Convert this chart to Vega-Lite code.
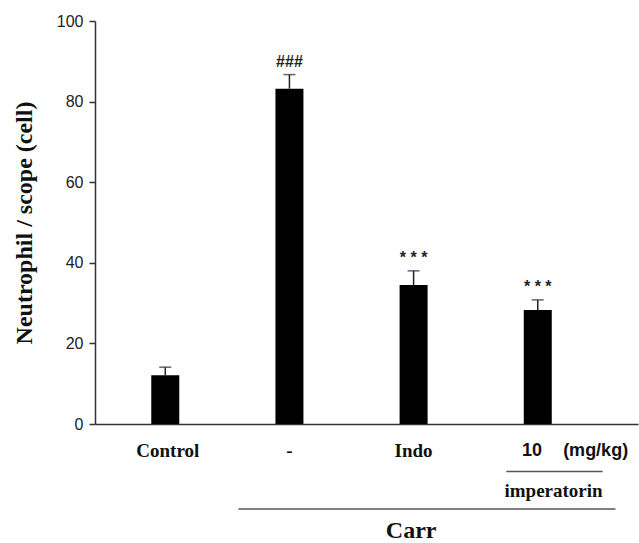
{
  "$schema": "https://vega.github.io/schema/vega-lite/v6.json",
  "autosize": "none",
  "padding": {"left": 95, "top": 21, "right": 1, "bottom": 119},
  "width": 543,
  "height": 403,
  "background": "white",
  "config": {"view": {"stroke": null}},
  "datasets": {
    "bars": [
      {"group": "Control", "pos": 1, "value": 12.1, "err": 14.1, "sig": ""},
      {"group": "-", "pos": 2, "value": 83.2, "err": 86.7, "sig": "###"},
      {"group": "Indo", "pos": 3, "value": 34.5, "err": 38.0, "sig": "* * *"},
      {"group": "10", "pos": 4, "value": 28.3, "err": 30.8, "sig": "* * *"}
    ],
    "serifLabels": [
      {"label": "Control", "pos": 1.02, "lv": -6.8},
      {"label": "-", "pos": 2, "lv": -6.8},
      {"label": "Indo", "pos": 3, "lv": -6.8},
      {"label": "imperatorin", "pos": 4.127, "lv": -16.6}
    ],
    "sansLabels": [
      {"label": "10", "pos": 3.953, "lv": -6.8},
      {"label": "(mg/kg)", "pos": 4.466, "lv": -6.8}
    ],
    "bigLabels": [
      {"label": "Carr", "pos": 2.98, "lv": -26.6}
    ],
    "lines": [
      {"name": "imperatorin", "start": 3.747, "end": 4.522, "lv": -11.8},
      {"name": "Carr", "start": 1.589, "end": 4.625, "lv": -21.1}
    ]
  },
  "layer": [
    {
      "data": {"name": "bars"},
      "mark": {"type": "bar", "color": "black", "width": 28},
      "encoding": {
        "x": {"field": "pos", "type": "quantitative", "scale": {"domain": [0.4743, 4.767], "nice": false, "zero": false},
              "axis": {"title": null, "labels": false, "ticks": false, "grid": false, "domainColor": "#333", "domainWidth": 1.5}},
        "y": {"field": "value", "type": "quantitative", "scale": {"domain": [0, 100], "nice": false},
              "axis": {"values": [0, 20, 40, 60, 80, 100], "grid": false, "tickSize": 6, "tickColor": "#333", "domainColor": "#333", "domainWidth": 1.5, "tickWidth": 1.5,
                       "labelFont": "Liberation Sans", "labelFontSize": 16, "labelColor": "#222", "labelPadding": 6,
                       "title": "Neutrophil / scope (cell)", "titleFont": "Liberation Serif", "titleFontSize": 24, "titleFontWeight": "bold", "titleColor": "#111", "titlePadding": 20}}
      }
    },
    {
      "data": {"name": "bars"},
      "mark": {"type": "rule", "color": "#222", "strokeWidth": 1.5},
      "encoding": {
        "x": {"field": "pos", "type": "quantitative"},
        "y": {"field": "value", "type": "quantitative"},
        "y2": {"field": "err"}
      }
    },
    {
      "data": {"name": "bars"},
      "mark": {"type": "tick", "color": "#222", "orient": "horizontal", "size": 12, "thickness": 1.5},
      "encoding": {
        "x": {"field": "pos", "type": "quantitative"},
        "y": {"field": "err", "type": "quantitative"}
      }
    },
    {
      "data": {"name": "bars"},
      "mark": {"type": "text", "font": "Liberation Sans", "fontSize": 16, "fontWeight": "bold", "color": "#222", "dy": -13, "baseline": "middle"},
      "encoding": {
        "x": {"field": "pos", "type": "quantitative"},
        "y": {"field": "err", "type": "quantitative"},
        "text": {"field": "sig"}
      }
    },
    {
      "data": {"name": "serifLabels"},
      "mark": {"type": "text", "font": "Liberation Serif", "fontSize": 19, "fontWeight": "bold", "color": "#111", "baseline": "middle"},
      "encoding": {
        "x": {"field": "pos", "type": "quantitative"},
        "y": {"field": "lv", "type": "quantitative"},
        "text": {"field": "label"}
      }
    },
    {
      "data": {"name": "sansLabels"},
      "mark": {"type": "text", "font": "Liberation Sans", "fontSize": 18, "fontWeight": "bold", "color": "#111", "baseline": "middle"},
      "encoding": {
        "x": {"field": "pos", "type": "quantitative"},
        "y": {"field": "lv", "type": "quantitative"},
        "text": {"field": "label"}
      }
    },
    {
      "data": {"name": "bigLabels"},
      "mark": {"type": "text", "font": "Liberation Serif", "fontSize": 24, "fontWeight": "bold", "color": "#111", "baseline": "middle"},
      "encoding": {
        "x": {"field": "pos", "type": "quantitative"},
        "y": {"field": "lv", "type": "quantitative"},
        "text": {"field": "label"}
      }
    },
    {
      "data": {"name": "lines"},
      "mark": {"type": "rule", "color": "#555", "strokeWidth": 1.5},
      "encoding": {
        "x": {"field": "start", "type": "quantitative"},
        "x2": {"field": "end"},
        "y": {"field": "lv", "type": "quantitative"}
      }
    }
  ]
}
